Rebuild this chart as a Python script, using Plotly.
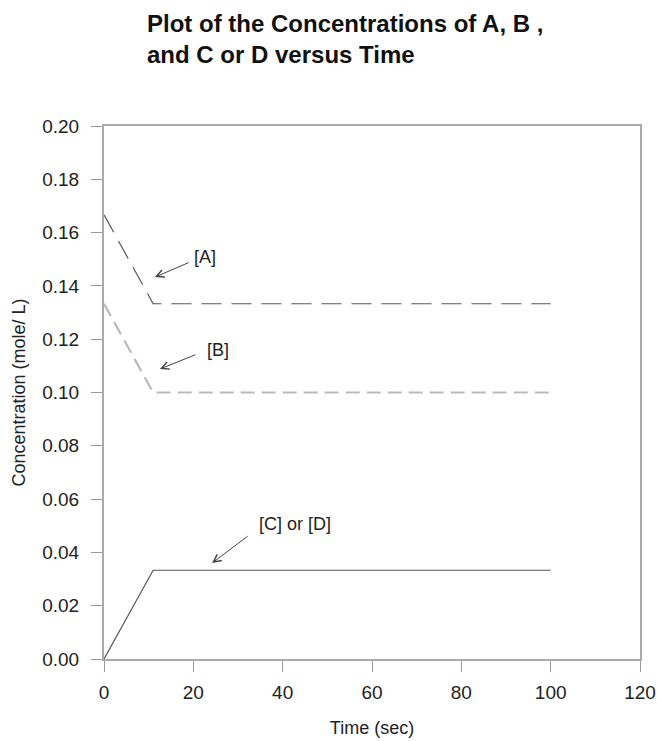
import plotly.graph_objects as go

time_pts = [0, 11, 100]
conc_A = [0.1667, 0.1333, 0.1333]
conc_B = [0.1333, 0.1000, 0.1000]
conc_CD = [0.0, 0.0333, 0.0333]

x_ticks = [0, 20, 40, 60, 80, 100, 120]
y_ticks = [0.00, 0.02, 0.04, 0.06, 0.08, 0.10, 0.12, 0.14, 0.16, 0.18, 0.20]

labels = ["[A]", "[B]", "[C] or [D]"]
label_pos = [(22.6, 0.151), (25.5, 0.116), (42.8, 0.0507)]
arrow_head = [(11.4, 0.1433), (12.5, 0.1088), (24.2, 0.036)]
arrow_tail = [(19.3, 0.149), (20.8, 0.1144), (32.5, 0.0465)]

FONT = "Liberation Sans, Arial, sans-serif"
TXT = "#222222"
W, H = 657, 741

fig = go.Figure()
fig.add_trace(go.Scatter(x=time_pts, y=conc_A, mode="lines",
                         line=dict(color="#555555", width=1.2, dash="20px,10px"), name="[A]"))
fig.add_trace(go.Scatter(x=time_pts, y=conc_B, mode="lines",
                         line=dict(color="#bbbbbb", width=2.2, dash="14px,7px"), name="[B]"))
fig.add_trace(go.Scatter(x=time_pts, y=conc_CD, mode="lines",
                         line=dict(color="#555555", width=1.2), name="[C] or [D]"))

for lab, (tx, ty), (hx, hy), (ax_, ay_) in zip(labels, label_pos, arrow_head, arrow_tail):
    fig.add_annotation(x=hx, y=hy, ax=ax_, ay=ay_, xref="x", yref="y", axref="x", ayref="y",
                       showarrow=True, arrowhead=5, arrowsize=1.5, arrowwidth=1,
                       arrowcolor="#444444", text="")
    fig.add_annotation(x=tx, y=ty, xref="x", yref="y", text=lab, showarrow=False,
                       font=dict(family=FONT, size=18, color=TXT))

axis_common = dict(showgrid=False, zeroline=False, showline=True, linecolor="#aaaaaa",
                   linewidth=2, mirror=True, ticks="outside", ticklen=11, tickwidth=1,
                   tickcolor="#999999", automargin=False,
                   tickfont=dict(family=FONT, size=19, color=TXT))

fig.update_xaxes(range=[0, 120], tickvals=x_ticks, ticktext=[str(v) for v in x_ticks],
                 ticklabelstandoff=4,
                 title=dict(text="Time (sec)", font=dict(family=FONT, size=18, color=TXT),
                            standoff=20), **axis_common)
fig.update_yaxes(range=[0, 0.2], tickvals=y_ticks, ticktext=[f"{v:.2f}" for v in y_ticks],
                 ticklabelstandoff=8,
                 title=dict(text="Concentration (mole/ L)", font=dict(family=FONT, size=18, color=TXT),
                            standoff=12), **axis_common)

fig.update_layout(
    width=W, height=H,
    margin=dict(l=104, r=17, t=126, b=82),
    paper_bgcolor="white", plot_bgcolor="white",
    showlegend=False,
    title=dict(text="<b>Plot of the Concentrations of A, B ,<br>and C or D versus Time</b>",
               x=147 / W, xanchor="left", y=1 - 32 / H, yanchor="top",
               font=dict(family=FONT, size=24, color="#111111")),
)

fig.write_html("out.html", config={"displayModeBar": False},
               post_script="document.body.style.margin='0';document.body.style.overflow='hidden';")
